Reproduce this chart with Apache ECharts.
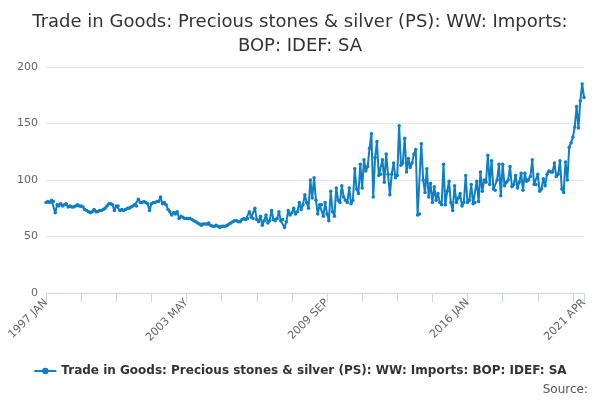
<!DOCTYPE html>
<html><head><meta charset="utf-8">
<script src="https://cdn.jsdelivr.net/npm/echarts@6/dist/echarts.min.js"></script>
<style>html,body{margin:0;padding:0}#c{width:600px;height:400px}</style>
</head><body><div id="c"></div>
<script>
var seriesName = 'Trade in Goods: Precious stones & silver (PS): WW: Imports: BOP: IDEF: SA';
var months = ['JAN','FEB','MAR','APR','MAY','JUN','JUL','AUG','SEP','OCT','NOV','DEC'];
var categories = [];
for (var y = 1997; y <= 2021; y++) for (var m = 0; m < 12; m++) { if (y === 2021 && m > 3) break; categories.push(y + ' ' + months[m]); }
var values = [
80,81,80,82,81,71,78,77,79,77,78,79,
76,77,76,76,77,78,77,77,76,74,73,72,
71,72,74,72,72,73,73,74,75,77,79,79,
78,73,77,77,73,74,73,74,75,75,76,77,
78,77,83,80,80,81,80,79,73,79,80,80,
81,81,85,79,80,78,74,72,69,71,70,72,
66,68,67,66,66,66,66,65,64,63,62,61,
60,61,61,61,62,60,59,59,60,59,58,59,
59,59,60,61,62,63,64,64,63,63,65,66,
65,66,72,67,66,75,65,63,68,60,64,69,
62,64,73,65,64,66,72,64,65,58,63,73,
69,71,75,70,72,80,74,78,87,80,75,100,
84,102,82,70,78,78,68,80,70,64,90,72,
68,93,82,80,95,85,82,80,93,79,82,110,
92,88,114,93,118,108,112,128,141,85,120,134,
104,105,118,98,123,105,87,105,115,102,104,148,
113,115,137,107,119,111,115,123,127,69,70,132,
100,89,110,85,97,80,94,82,88,80,78,114,
78,90,99,80,73,95,80,84,88,77,80,104,
80,82,96,79,80,99,81,107,90,100,98,122,
96,117,92,91,100,114,86,114,95,98,100,112,
94,96,104,93,98,106,91,106,99,100,103,118,
96,96,105,90,92,101,95,105,108,107,107,115,
103,105,117,92,89,116,100,129,133,138,147,165,
146,170,185,173];
var chart = echarts.init(document.getElementById('c'));
chart.setOption({
  animation:false,
  title:{text:'Trade in Goods: Precious stones & silver (PS): WW: Imports:\nBOP: IDEF: SA',left:'center',top:5,
    textStyle:{fontSize:18,fontWeight:'normal',color:'#333',lineHeight:24,fontFamily:'DejaVu Sans'}},
  grid:{left:46,right:16,top:67,bottom:107},
  legend:{bottom:18,left:'center',itemWidth:22,itemHeight:8,textStyle:{fontSize:12,fontWeight:'bold',color:'#333',fontFamily:'DejaVu Sans'}},
  graphic:[{type:'text',right:12,bottom:4,style:{text:'Source:',fontSize:12,fill:'#555',fontFamily:'DejaVu Sans'}}],
  xAxis:{type:'category',data:categories,boundaryGap:false,
    axisLine:{lineStyle:{color:'#ccd6eb'}},
    axisTick:{interval:18,lineStyle:{color:'#ccd6eb'},length:9},
    axisLabel:{interval:75,showMaxLabel:true,rotate:45,color:'#666',fontSize:11,fontFamily:'DejaVu Sans'}},
  yAxis:{type:'value',min:0,max:200,interval:50,
    axisLine:{show:false},axisTick:{show:false},
    axisLabel:{color:'#666',fontSize:11,fontFamily:'DejaVu Sans'},
    splitLine:{lineStyle:{color:'#e6e6e6'}}},
  series:[{name:seriesName,type:'line',data:values,symbol:'circle',symbolSize:3.5,showSymbol:true,showAllSymbol:true,
    lineStyle:{width:2,color:'#0f7fc3'},itemStyle:{color:'#0f7fc3'}}]
});
</script></body></html>
